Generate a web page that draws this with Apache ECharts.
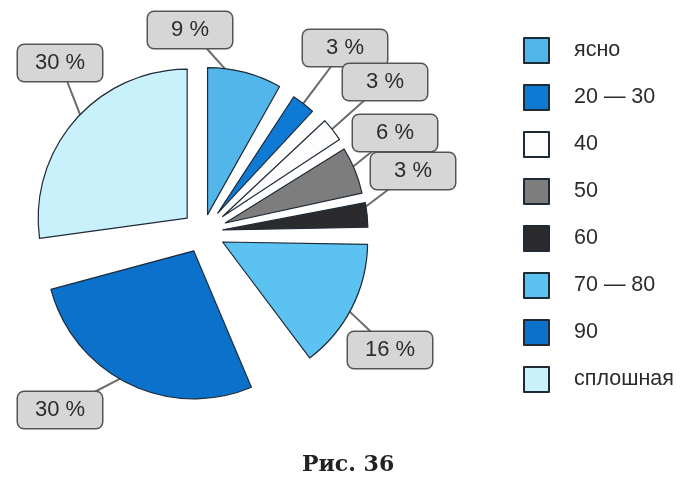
<!DOCTYPE html>
<html><head><meta charset="utf-8">
<script src="https://cdn.jsdelivr.net/npm/echarts@6/dist/echarts.min.js"></script>
<style>html,body{margin:0;padding:0;background:#fff}#chart{width:696px;height:481px}</style>
</head><body><div id="chart"></div>
<script>
// ---- data ----
const categories = ['ясно', '20 — 30', '40', '50', '60', '70 — 80', '90', 'сплошная'];
const values = [9, 3, 3, 6, 3, 16, 30, 30];
const captionText = 'Рис. 36';

// ---- styles / layout ----
const colors = ['#52b6eb', '#0e7ad4', '#fdfdfd', '#7d7d7d', '#2b2b2d', '#5cc2f2', '#0b71ca', '#c9f1fb'];
const radii = [147, 139, 140, 140, 145, 145, 148, 149];
const explode = [18, 24, 25, 24, 20, 22, 21, 21];
// angular spacing (degrees) left after each sector
const gapDeg = [3.8, 3.9, 1.5, 1.5, 2.0, 14.0, 7.3, 0];
const startOffset = 0; // degrees clockwise from 12 o'clock
const labelOffsets = [[-13, -202], [142, -184], [182, -150], [192, -99], [210, -61], [187, 118], [-143, 178], [-143, -169]];
const C = [203, 232];

const total = values.reduce((a, b) => a + b, 0);
const gapSum = gapDeg.reduce((a, b) => a + b, 0);
const unit = (360 - gapSum) / total; // degrees per value unit
const mids = []; let acc = startOffset;
values.forEach((v, i) => { mids.push(acc + v * unit / 2); acc += v * unit + gapDeg[i]; });
function dir(deg) { const r = deg * Math.PI / 180; return [Math.sin(r), -Math.cos(r)]; }

const series = categories.map((name, k) => {
  const d = dir(mids[k]);
  const cx = C[0] + explode[k] * d[0], cy = C[1] + explode[k] * d[1];
  const tip = [cx + 0.9 * radii[k] * d[0], cy + 0.9 * radii[k] * d[1]];
  const box = [C[0] + labelOffsets[k][0], C[1] + labelOffsets[k][1]];
  const vx = tip[0] - box[0], vy = tip[1] - box[1];
  const t = Math.min(41 / Math.max(Math.abs(vx), 1e-6), 17 / Math.max(Math.abs(vy), 1e-6));
  const edge = [box[0] + vx * t, box[1] + vy * t];
  const data = [];
  values.forEach((v, i) => {
    if (i === k) {
      data.push({ name: name, value: v, itemStyle: { color: colors[i], borderColor: '#1e2a36', borderWidth: 1.2 }, label: { show: true }, labelLine: { show: true } });
    } else {
      data.push({ name: '_c' + k + '_' + i, value: v, itemStyle: { color: 'rgba(0,0,0,0)', borderWidth: 0 }, label: { show: false }, labelLine: { show: false } });
    }
    if (gapDeg[i] > 0) {
      data.push({ name: '_g' + k + '_' + i, value: gapDeg[i] / unit, itemStyle: { color: 'rgba(0,0,0,0)', borderWidth: 0 }, label: { show: false }, labelLine: { show: false } });
    }
  });
  const labelIndex = data.findIndex(it => it.name === name);
  return {
    type: 'pie', center: [cx, cy], radius: [0, radii[k]], startAngle: 90 - startOffset, clockwise: true,
    avoidLabelOverlap: false, silent: true, animation: false,
    emphasis: { disabled: true },
    data: data,
    label: {
      position: 'outside', formatter: '{c} %', fontSize: 22, fontFamily: 'Liberation Sans, Arial, sans-serif',
      color: '#2c2c2c', backgroundColor: '#d6d6d6', borderColor: '#555', borderWidth: 1.5, borderRadius: 6,
      width: 84, height: 36, lineHeight: 36, padding: 0, align: 'center'
    },
    labelLine: { lineStyle: { color: '#6b6b6b', width: 2 } },
    labelLayout: p => p.dataIndex === labelIndex ? {
      x: box[0], y: box[1], align: 'center', verticalAlign: 'middle',
      labelLinePoints: [tip, [(tip[0] + edge[0]) / 2, (tip[1] + edge[1]) / 2], edge]
    } : {}
  };
});

const chart = echarts.init(document.getElementById('chart'), null, { renderer: 'canvas' });
chart.setOption({
  backgroundColor: '#ffffff',
  animation: false,
  title: {
    text: captionText, left: 297, top: 449,
    textStyle: { fontFamily: 'DejaVu Serif, serif', fontWeight: 'bold', fontSize: 22, color: '#222' }
  },
  legend: {
    data: categories, orient: 'vertical', left: 518, top: 32,
    itemWidth: 25, itemHeight: 25, itemGap: 20, icon: 'rect', selectedMode: false,
    textStyle: { fontSize: 21.5, color: '#2b2b2b', fontFamily: 'Liberation Sans, Arial, sans-serif', padding: [0, 0, 0, 20] }
  },
  series: series
});
</script></body></html>
